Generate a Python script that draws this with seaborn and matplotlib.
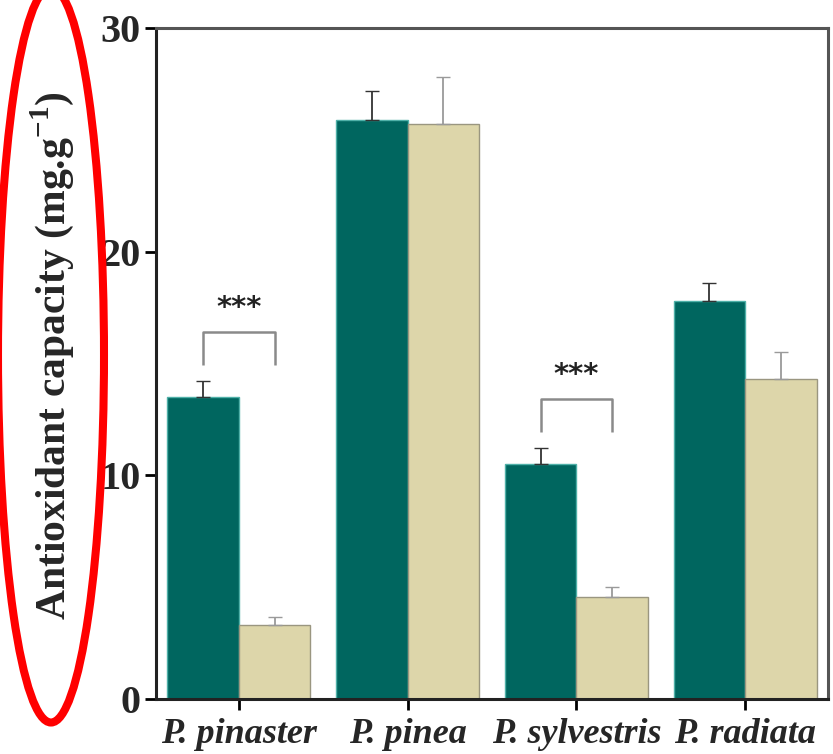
import matplotlib
matplotlib.use("Agg")
import matplotlib.pyplot as plt
import seaborn as sns
import pandas as pd
import numpy as np
from matplotlib.patches import Ellipse

species = ["P. pinaster", "P. pinea", "P. sylvestris", "P. radiata"]
groups = ["Group 1", "Group 2"]
values_1 = [13.5, 25.9, 10.5, 17.8]
values_2 = [3.3, 25.7, 4.55, 14.3]
errors_1 = [0.7, 1.3, 0.7, 0.8]
errors_2 = [0.35, 2.1, 0.45, 1.2]
yticks = [0, 10, 20, 30]
sig_pairs = ["P. pinaster", "P. sylvestris"]
sig_label = "***"

df = pd.DataFrame({
    "species": species * 2,
    "group": [groups[0]] * 4 + [groups[1]] * 4,
    "value": values_1 + values_2,
    "err": errors_1 + errors_2,
})

sns.set_theme(style="ticks")
plt.rcParams["font.family"] = ["Liberation Serif", "DejaVu Serif"]
plt.rcParams["mathtext.fontset"] = "custom"
plt.rcParams["mathtext.rm"] = "Liberation Serif"
plt.rcParams["mathtext.bf"] = "Liberation Serif:bold"

fig = plt.figure(figsize=(8.33, 7.54), dpi=100)
ax = fig.add_axes([156 / 833, 1 - 699 / 754, 672 / 833, 671 / 754])

teal = "#00665F"
beige = "#DDD6AA"
sns.barplot(data=df, x="species", y="value", hue="group", order=species,
            hue_order=groups, palette=[teal, beige], width=0.85, gap=0,
            saturation=1, errorbar=None, legend=False, ax=ax)

bar_containers = list(ax.containers)
edge_cols = ["#4fb0a8", "#9a9680"]
err_cols = ["#333333", "#9a9a9a"]
for ci, cont in enumerate(bar_containers):
    errs = errors_1 if ci == 0 else errors_2
    for bar, e in zip(cont, errs):
        bar.set_edgecolor(edge_cols[ci])
        bar.set_linewidth(1.0)
        xc = bar.get_x() + bar.get_width() / 2
        h = bar.get_height()
        ax.errorbar([xc], [h], yerr=[[0], [e]], fmt="none",
                    ecolor=err_cols[ci], elinewidth=1.3, capsize=5,
                    capthick=1.0, zorder=3)

# significance brackets
for sp in sig_pairs:
    i = species.index(sp)
    b1 = bar_containers[0][i]
    b2 = bar_containers[1][i]
    x1 = b1.get_x() + b1.get_width() / 2
    x2 = b2.get_x() + b2.get_width() / 2
    top = b1.get_height() + errors_1[i] + 2.2
    ax.plot([x1, x1, x2, x2], [top - 1.45, top, top, top - 1.45],
            color="#8a8a8a", lw=1.8, solid_capstyle="butt")
    ax.text((x1 + x2) / 2, top + 0.45, sig_label, ha="center", va="bottom",
            fontsize=21, fontweight="bold", color="#222222",
            family="DejaVu Sans")

ax.set_ylim(0, 30)
ax.set_xlim(-0.49, 3.49)
ax.set_yticks(yticks)
ax.set_yticklabels([str(t) for t in yticks], fontsize=29, fontweight="bold")
ax.set_xticks(range(len(species)))
ax.set_xticklabels(species, fontsize=26, fontweight="bold", style="italic")
ax.set_xlabel("")
ax.set_ylabel("Antioxidant capacity (mg.g$^{\\mathbf{-1}}$)", fontsize=30,
              fontweight="bold")
ax.yaxis.label.set_va("center")
ax.yaxis.set_label_coords(52 / 833, 1 - 356 / 754, transform=fig.transFigure)
ax.tick_params(axis="both", direction="out", length=8, width=2, color="black")
ax.tick_params(axis="y", pad=3)
ax.tick_params(axis="x", pad=6)
for s in ax.spines.values():
    s.set_visible(True)
    s.set_linewidth(2.2)
    s.set_color("#222222")
ax.spines["right"].set_color("#555555")
ax.spines["top"].set_color("#555555")

ell = Ellipse((51, 754 - 355), 106, 735, transform=None, fill=False,
              edgecolor="#ff0000", linewidth=5.8, zorder=10, clip_on=False)
fig.add_artist(ell)

fig.savefig("out.png", dpi=100)
